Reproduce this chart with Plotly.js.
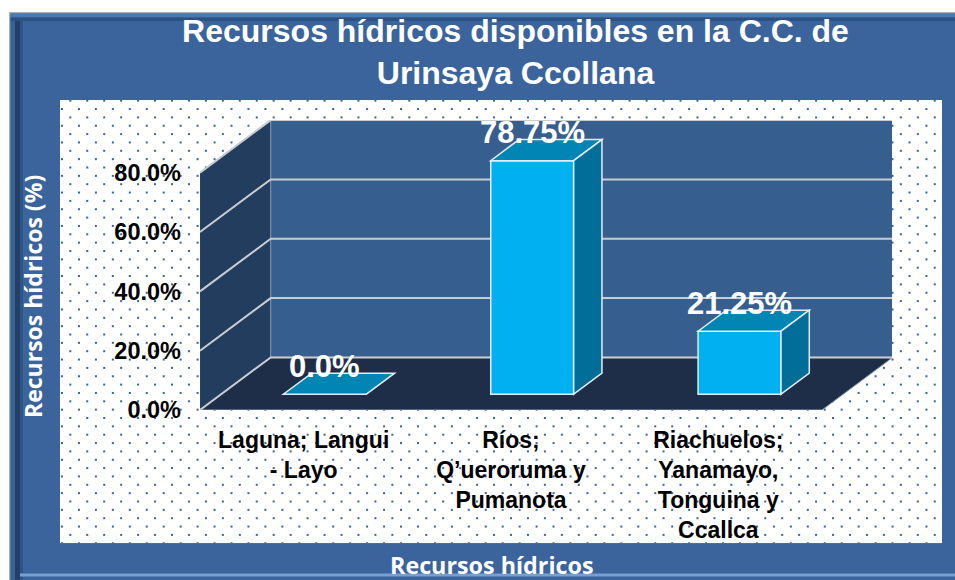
<!DOCTYPE html>
<html><head><meta charset="utf-8">
<script src="https://cdn.plot.ly/plotly-3.0.1.min.js"></script>
<style>html,body{margin:0;padding:0;background:#fff;overflow:hidden}#chart{width:955px;height:580px}</style>
</head><body><div id="chart"></div>
<script>
// ---- data ----
const categories = ["Laguna; Langui<br>- Layo", "Ríos;<br>Q’ueroruma y<br>Pumanota", "Riachuelos;<br>Yanamayo,<br>Tonguina y<br>Ccallca"];
const values = [0.0, 78.75, 21.25];
const yTickVals = [0, 20, 40, 60, 80];
const yTickText = ["0.0%", "20.0%", "40.0%", "60.0%", "80.0%"];
const chartTitle = "Recursos hídricos disponibles en la C.C. de<br>Urinsaya Ccollana";
const xTitle = "Recursos hídricos";
const yTitle = "Recursos hídricos (%)";

// ---- geometry / style ----
const W = 955, H = 580;
const L = 200, R = 892, T = 120, B = 410;           // plot area in px
const catPx = (822 - 200) / 3;                      // px per category
const pxPerPct = (410 - 172.7) / 80;                // px per percent
const DX = 70.7 / catPx, DY = 52.6 / pxPerPct;      // depth in data units
const z0 = 0.3, z1 = 0.7, barW = 0.4;
const xRange = [-0.5, -0.5 + (R - L) / catPx];
const yRange = [0, (B - T) / pxPerPct];
const yTop = yTickVals[yTickVals.length - 1];
const nCat = categories.length;
const P = X => (X - L) / (R - L);
const Q = Y => (B - Y) / (B - T);
const FONT = '"Liberation Sans", Arial, sans-serif';

function prect(x0, y0, x1, y1, color) {
  return {type: 'rect', xref: 'paper', yref: 'paper', x0: P(x0), x1: P(x1), y0: Q(y1), y1: Q(y0),
          fillcolor: color, line: {width: 0}, layer: 'below'};
}
function path(pts, fill, lineColor, lineW, layer) {
  const d = pts.map((p, i) => (i ? 'L' : 'M') + p[0] + ',' + p[1]).join(' ') + (fill ? ' Z' : '');
  return {type: 'path', xref: 'x', yref: 'y', path: d, fillcolor: fill || 'rgba(0,0,0,0)',
          line: {color: lineColor || 'rgba(0,0,0,0)', width: lineW || 0}, layer: layer || 'below'};
}

const shapes = [
  // frame
  prect(0, 0, W, 12, '#ffffff'),
  prect(0, 0, 9, H, '#ffffff'),
  prect(9, 12, W, 13.5, '#A9ADB2'),
  prect(9, 12, 10.5, H, '#A9ADB2'),
  prect(10.5, 13.5, W, 17.5, '#4A79B2'),
  prect(10.5, 17.5, W, 21, '#2C5283'),
  prect(10.5, 21, 15, H, '#3A6193'),
  prect(15, 21, 20, H, '#213F69'),
  prect(20, 21, 23, H, '#2E5685'),
  prect(20, 573.5, W, 576.5, '#77A0D0'),
];

// walls & floor
const xl = xRange[0], xr = xl + nCat;
shapes.push(path([[xl, 0], [xl, yTop], [xl + DX, yTop + DY], [xl + DX, DY]], '#223D5E', '#2A4668', 1));
shapes.push(path([[xl + DX, DY], [xl + DX, yTop + DY], [xr + DX, yTop + DY], [xr + DX, DY]], '#365E8E', '#8A9BB0', 1));
shapes.push(path([[xl, 0], [xr, 0], [xr + DX, DY], [xl + DX, DY]], '#1F2E48', '#8A9BB0', 1));
// gridlines
yTickVals.forEach(v => {
  shapes.push(path([[xl, v], [xl + DX, v + DY], [xr + DX, v + DY]], null, '#C9CDD2', 2));
});
// bar top & side faces
values.forEach((v, i) => {
  const a = i - barW / 2, b = i + barW / 2;
  shapes.push(path([[a + z0 * DX, v + z0 * DY], [b + z0 * DX, v + z0 * DY], [b + z1 * DX, v + z1 * DY], [a + z1 * DX, v + z1 * DY]],
    '#0085B5', '#E3ECF4', 1.5, 'above'));
  if (v > 0) {
    shapes.push(path([[b + z0 * DX, z0 * DY], [b + z1 * DX, z1 * DY], [b + z1 * DX, v + z1 * DY], [b + z0 * DX, v + z0 * DY]],
      '#006E98', '#E3ECF4', 1.5, 'above'));
  }
});

// dotted background image
const imgW = 882, imgH = 443.3;
let dots = '';
const sx = 16.95, sy = 8.35;
for (let r = 0; r * sy < imgH + 2; r++) {
  const off = (r % 2 === 0) ? 10.3 : 2.0;
  for (let x = off; x < imgW; x += sx) {
    dots += `<rect x="${(x - 1).toFixed(2)}" y="${(r * sy - 0.3).toFixed(2)}" width="2" height="2"/>`;
  }
}
const svg = `<svg xmlns="http://www.w3.org/2000/svg" width="${imgW}" height="${imgH}" viewBox="0 0 ${imgW} ${imgH}"><rect width="100%" height="100%" fill="#ffffff"/><g fill="#3D639C">${dots}</g></svg>`;
const img = 'data:image/svg+xml;base64,' + btoa(unescape(encodeURIComponent(svg)));

const fmt = v => (Number.isInteger(v) ? v.toFixed(1) : v.toFixed(2)) + '%';

const annotations = values.map((v, i) => ({
  x: i + z0 * DX, y: v + z0 * DY, xref: 'x', yref: 'y', text: fmt(v), showarrow: false,
  xanchor: 'center', yanchor: 'middle', yshift: 28,
  font: {family: FONT, size: 31, color: '#ffffff', weight: 'bold'}
}));
annotations.push({
  x: P(491.7), y: Q(565), xref: 'paper', yref: 'paper', text: xTitle, showarrow: false,
  xanchor: 'center', yanchor: 'middle',
  font: {family: '"Open Sans", sans-serif', size: 23.3, color: '#ffffff', weight: 'bold'}
});
annotations.push({
  x: P(32.5), y: Q(296.5), xref: 'paper', yref: 'paper', text: yTitle, showarrow: false, textangle: -90,
  xanchor: 'center', yanchor: 'middle',
  font: {family: '"Open Sans", sans-serif', size: 23, color: '#ffffff', weight: 'bold'}
});

const trace = {
  type: 'bar', x: values.map((v, i) => i), y: values, base: z0 * DY,
  width: barW, offset: -barW / 2 + z0 * DX,
  marker: {color: '#00B0F0', line: {color: '#E3ECF4', width: 1.5}},
  hoverinfo: 'skip', showlegend: false
};

const layout = {
  width: W, height: H,
  margin: {l: L, r: W - R, t: T, b: H - B, pad: 0},
  paper_bgcolor: '#3A649B', plot_bgcolor: 'rgba(0,0,0,0)',
  showlegend: false,
  title: {text: chartTitle, x: 515.5 / W, xref: 'container', xanchor: 'center',
          y: 1 - 42 / H, yref: 'container', yanchor: 'top',
          font: {family: FONT, size: 32, color: '#ffffff', weight: 'bold'}},
  xaxis: {range: xRange, tickvals: categories.map((c, i) => i), ticktext: categories,
          showgrid: false, zeroline: false, showline: false, ticks: '', ticklabelstandoff: 14,
          fixedrange: true, tickangle: 0,
          tickfont: {family: FONT, size: 23, color: '#000000', weight: 'bold'}},
  yaxis: {range: yRange, tickvals: yTickVals, ticktext: yTickText,
          showgrid: false, zeroline: false, showline: false, ticks: '', ticklabelstandoff: 18,
          fixedrange: true,
          tickfont: {family: FONT, size: 23.5, color: '#000000', weight: 'bold'}},
  shapes: shapes,
  annotations: annotations,
  images: [{source: img, xref: 'paper', yref: 'paper', x: P(60), y: Q(100),
            sizex: P(942) - P(60), sizey: Q(100) - Q(543.3), xanchor: 'left', yanchor: 'top',
            sizing: 'stretch', layer: 'below'}]
};

Plotly.newPlot('chart', [trace], layout, {displayModeBar: false, staticPlot: true});
</script></body></html>
